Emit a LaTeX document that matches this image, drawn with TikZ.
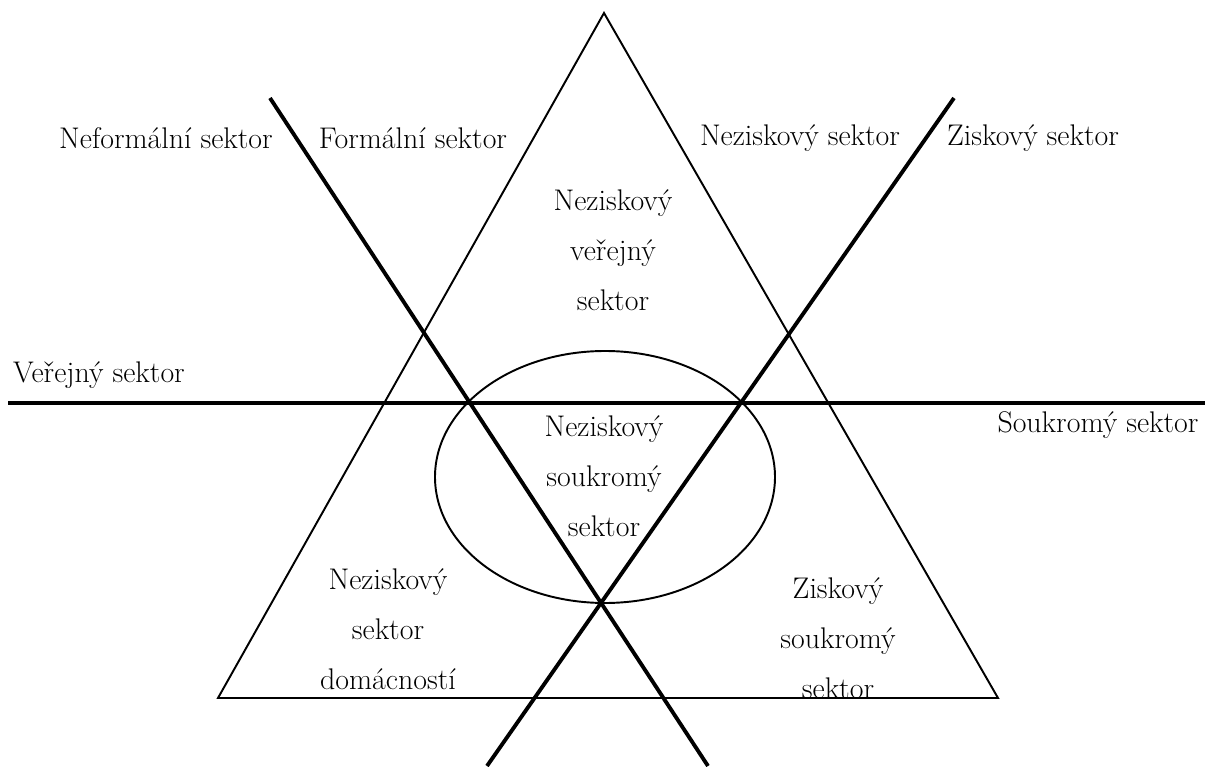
\documentclass[tikz,border=0pt]{standalone}

\begin{document}
\begin{tikzpicture}[x=0.02cm,y=-0.02cm,
	lbl/.style={font=\fontsize{17}{28.5}\selectfont,align=center,inner sep=0pt},
	triline/.style={line width=1.1pt},
	sectorline/.style={line width=2.2pt}]
	\useasboundingbox (0,0) rectangle (1205,767);
	% triangle and oval
	\draw[triline] (604,13) -- (998,698) -- (218,698) -- cycle;
	\draw[triline] (605,477) ellipse (170 and 126);
	% dividing lines
	\coordinate (vl) at (8,403);
	\coordinate (vr) at (1205,403);
	\coordinate (fa) at (270,98);
	\coordinate (fb) at (708,766);
	\coordinate (za) at (954,98);
	\coordinate (zb) at (487,766);
	\draw[sectorline] (vl) -- (vr);
	\draw[sectorline] (fa) -- (fb);
	\draw[sectorline] (za) -- (zb);
	% sector names
	\node[lbl] (neform) at (166,138) {Neformální sektor};
	\node[lbl] (form) at (413,138) {Formální sektor};
	\node[lbl] (nezisk) at (800,138) {Neziskový sektor};
	\node[lbl] (zisk) at (1033,138) {Ziskový sektor};
	\node[lbl] (verej) at (99,375) {Veřejný sektor};
	\node[lbl] (soukr) at (1098,425) {Soukromý sektor};
	% areas
	\node[lbl] (nvs) at (613,250) {Neziskový\\veřejný\\sektor};
	\node[lbl] (nss) at (604,476) {Neziskový\\soukromý\\sektor};
	\node[lbl] (nsd) at (388,629) {Neziskový\\sektor\\domácností};
	\node[lbl] (zss) at (838,638) {Ziskový\\soukromý\\sektor};
\end{tikzpicture}
\end{document}
